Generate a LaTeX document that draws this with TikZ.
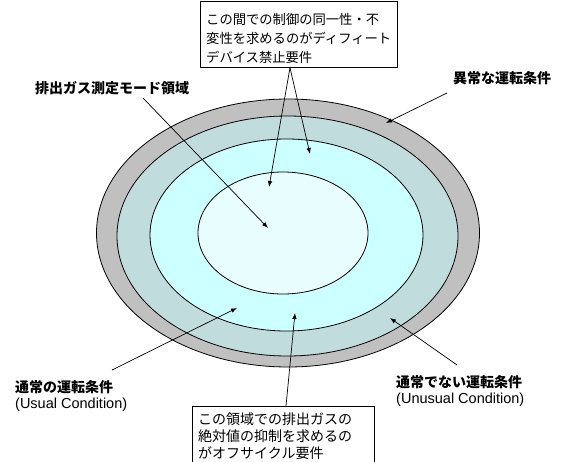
\documentclass[tikz,border=0pt]{standalone}
\usepackage{fontspec}
\setmainfont{Liberation Sans}
\newfontfamily\jp{Noto Sans CJK JP}
\usetikzlibrary{arrows.meta,calc}
\definecolor{ringgray}{RGB}{192,192,192}
\definecolor{ringteal}{RGB}{192,220,220}
\definecolor{ringcyan}{RGB}{204,255,255}
\definecolor{ringcore}{RGB}{232,253,253}
\tikzset{
  ring/.style={draw=black, line width=0.8pt},
  arr/.style={draw=black, line width=0.7pt, -{Latex[length=6pt,width=4.5pt]}},
  lab/.style={font={\jp\bfseries\fontsize{14}{16}\selectfont}, anchor=base west, inner sep=0pt},
  eng/.style={font={\fontsize{14.5}{16}\selectfont}, anchor=base west, inner sep=0pt},
  box/.style={draw=black, line width=0.8pt, fill=white, inner sep=0pt, anchor=north west},
  boxtext/.style={align=left, anchor=west, inner sep=0pt}
}
\begin{document}
\begin{tikzpicture}[x=1pt,y=-1pt]
\useasboundingbox (0,0) rectangle (562,461);
\fill[white] (0,0) rectangle (562,461);

% rings
\draw[ring, fill=ringgray] (288,233) ellipse [x radius=191.5pt, y radius=134pt];
\draw[ring, fill=ringteal] (287.5,236) ellipse [x radius=170.5pt, y radius=120pt];
\draw[ring, fill=ringcyan] (286.5,235) ellipse [x radius=136.5pt, y radius=96pt];
\draw[ring, fill=ringcore] (283,233) ellipse [x radius=85pt, y radius=61pt];

% arrow tips
\coordinate (tipmode) at (268,228);
\coordinate (tipabn) at (386,123);
\coordinate (tipinner) at (269,187);
\coordinate (tipband) at (310,154);
\coordinate (tipoff) at (295,313);
\coordinate (tipusual) at (237,308);
\coordinate (tipunusual) at (390,318);

% boxes
\node[box, minimum width=197pt, minimum height=66.5pt] (topbox) at (200,0.5) {};
\node[boxtext, font={\jp\fontsize{13.3}{19}\selectfont}] (toptext) at (206,38)
  {この間での制御の同一性・不\\変性を求めるのがディフィート\\デバイス禁止要件};

\node[box, minimum width=182pt, minimum height=70pt] (botbox) at (192,406) {};
\node[boxtext, font={\jp\fontsize{14}{17}\selectfont}] (bottext) at (198,436)
  {この領域での排出ガスの\\絶対値の抑制を求めるの\\がオフサイクル要件};

% labels
\node[lab] (modelab) at (35,93) {排出ガス測定モード領域};
\node[lab] (abnlab) at (453,83) {異常な運転条件};
\node[lab] (usual) at (15,392) {通常の運転条件};
\node[eng] (usualen) at (15,408) {(Usual Condition)};
\node[lab] (unusual) at (396,387) {通常でない運転条件};
\node[eng] (unusualen) at (396,403) {(Unusual Condition)};

% connectors
\draw[arr] ($(modelab.base west)+(108,5)$) -- (tipmode);
\draw[arr] ($(abnlab.base west)+(-6,10)$) -- (tipabn);
\draw[arr] ($(topbox.south west)+(90,0)$) -- (tipinner);
\draw[arr] ($(topbox.south west)+(90,0)$) -- (tipband);
\draw[arr] ($(botbox.north west)+(94,0)$) -- (tipoff);
\draw[arr] ($(usual.base west)+(97,-22)$) -- (tipusual);
\draw[arr] ($(unusual.base west)+(61,-22)$) -- (tipunusual);
\end{tikzpicture}
\end{document}
